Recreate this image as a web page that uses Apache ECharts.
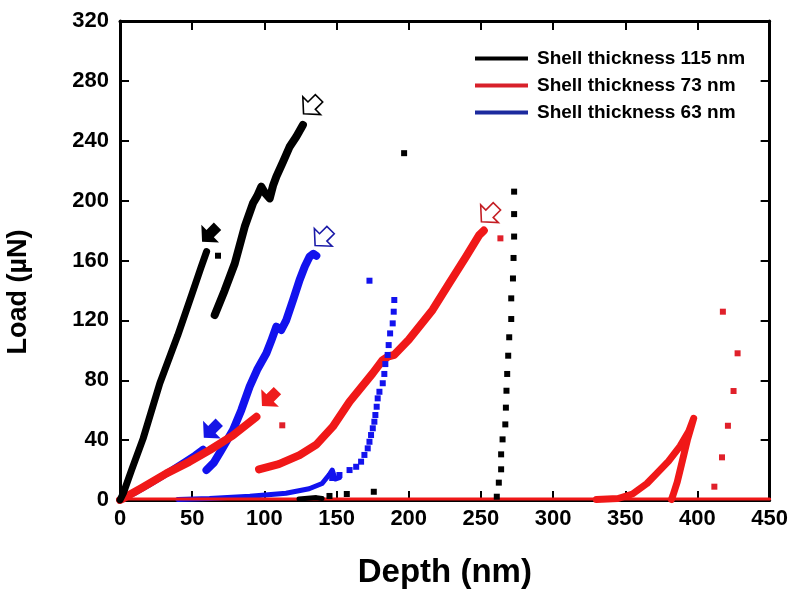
<!DOCTYPE html>
<html>
<head>
<meta charset="utf-8">
<script src="https://cdn.jsdelivr.net/npm/echarts@6/dist/echarts.min.js"></script>
<style>
  html, body { margin: 0; padding: 0; background: #fff; }
  #chart { width: 791px; height: 595px; }
</style>
</head>
<body>
<div id="chart"></div>
<script>
// Load–depth curves, [depth (nm), load (µN)]
const black115Load1 = [[0,0],[2.3,4.5],[8,20],[16,41],[27.6,78],[40,110],[50,138],[56,155],[60,166]];
const black115Load2 = [[65.6,123.6],[72.5,140],[79.5,158],[86.4,182.6],[92.1,198.2],[95,203],[97.9,209.3],[100.5,205],[103.7,201.5],[106,210],[108.3,216],[113,226],[117.5,236],[122.1,242.7],[126.7,250.5]];
const black115Tail  = [[124,0.6],[130,1.2],[136,1.6],[140,1]];
const black115Dots  = [[67.9,163.2],[196.8,231.7],[273,206],[273,191],[273,176],[272.6,161.7],[272.2,148],[271,134.7],[271,120.9],[269.6,108.7],[268.9,96.4],[268.2,84.2],[267.7,73],[267.3,61.7],[266.9,50.5],[265,40.5],[264,30.5],[264,20.5],[262.4,11.6],[261,2.2],[145.1,2.7],[157.1,4],[175.8,5.5]];

const red73Load1 = [[0,0],[2.3,1.1],[15,8],[32.2,17.8],[48,25.5],[62.2,33.4],[78,43],[94.5,55.6]];
const red73Load2 = [[96.3,20.5],[110,24],[124.4,30],[136,37],[147.4,49],[159,65.7],[175,84.6],[182,93.5],[186,96],[190,97],[200,107],[216.5,127],[228,144.7],[239.6,162.5],[248.8,177],[252,180]];
const red73Loop  = [[330,0.3],[345,1],[355,4],[365,11],[372,18],[380,26],[388,36],[394,46],[397.4,54.6],[393,40],[389,24],[386,12],[383,3],[382,0.3]];
const red73Base  = [[0,0.6],[450,0.6]];
const red73Dots  = [[112.4,49.9],[263.5,174.8],[417.6,125.8],[427.8,98],[425,72.8],[421.1,49.6],[417,28.5],[411.7,8.9]];

const blue63Load1 = [[0,0],[10,5],[20,10.5],[32,17.5],[44,25],[52,30],[57.6,34]];
const blue63Load2 = [[59.9,20],[65,25],[70,33],[78.3,46.8],[84,60],[89.8,75.7],[95,87],[101.4,98],[105,107],[108.3,115.8],[111.7,113.6],[115.2,120.2],[120,134],[124.4,147],[128,156],[131.3,162.5],[134,164.5],[136,163.2]];
const blue63Base  = [[40,0.4],[62,1],[90,2.5],[115,4.5],[131,7.5],[140,11],[145,17],[147,20],[149,14],[152,15]];
const blue63Dots  = [[172.8,146.5],[190,133.6],[189.6,125.8],[188.9,118],[187.1,111.3],[186.1,103.5],[185.4,96.9],[183.8,90.8],[183.1,84.2],[182,78],[179.7,72.3],[178.5,67.9],[177.8,62.3],[176.9,56.8],[176.2,52.3],[175.1,47.9],[173.9,43.4],[172.8,38.9],[171.6,34.5],[169.3,30.1],[167,25.6],[163.6,22.2],[159,20],[152,16.7],[147,14.7]];

// Arrow markers: filled ones mark pop-in onsets, open ones the peak loads
const arrowsFilled = [[62.2,177.7,'#000000'],[63.4,46.8,'#1515e6'],[103.7,67.9,'#ee1c1c']];
const arrowsOpen   = [[132.5,263.2,'#000000'],[140.5,175.2,'#1a1aa8'],[255.7,191,'#c41e24']];

const seriesNames = ['Shell thickness 115 nm','Shell thickness 73 nm','Shell thickness 63 nm'];
const xTicks = { min: 0, max: 450, interval: 50 };
const yTicks = { min: 0, max: 320, interval: 40 };

const FONT = 'Arial, "Liberation Sans", Helvetica, sans-serif';
const BLACK = '#000000', RED = '#f01818', BLUE = '#1212ee';
const arrowPath = 'path://M0,0 L12,11 L5,11 L5,21 L-5,21 L-5,11 L-12,11 Z';

function lineSeries(name, data, color, width, z) {
  return { name, type: 'line', data, showSymbol: false, symbol: 'none', z,
    lineStyle: { color, width, cap: 'round', join: 'round' }, itemStyle: { color },
    animation: false, silent: true };
}
function dotSeries(name, data, color, z) {
  return { name, type: 'scatter', data, symbol: 'rect', symbolSize: 6, z,
    itemStyle: { color, opacity: 1 }, animation: false, silent: true };
}
function arrowSeries(list, open) {
  return { name: open ? 'open arrows' : 'filled arrows', type: 'scatter', z: 10,
    data: list.map(a => ({ value: [a[0], a[1]],
      itemStyle: open ? { color: '#ffffff', borderColor: a[2], borderWidth: 1.6, opacity: 1 }
                      : { color: a[2], opacity: 1 } })),
    symbol: arrowPath, symbolSize: [25, 25], symbolRotate: 135, symbolKeepAspect: true,
    animation: false, silent: true };
}

const axisCommon = {
  type: 'value', splitLine: { show: false },
  axisLine: { show: true, onZero: false, lineStyle: { color: '#000', width: 3 } },
  axisTick: { show: true, inside: true, length: 9, lineStyle: { color: '#000', width: 2 } }
};

const chart = echarts.init(document.getElementById('chart'), null, { renderer: 'canvas' });
chart.setOption({
  backgroundColor: '#ffffff',
  animation: false,
  grid: { left: 120, right: 20, top: 21, bottom: 95, containLabel: false },
  xAxis: [
    Object.assign({}, axisCommon, xTicks, { position: 'bottom',
      name: 'Depth (nm)', nameLocation: 'middle', nameGap: 56,
      nameTextStyle: { fontFamily: FONT, fontWeight: 'bold', fontSize: 33, color: '#000' },
      axisLabel: { fontFamily: FONT, fontWeight: 'bold', fontSize: 22, color: '#000', margin: 8 } }),
    Object.assign({}, axisCommon, xTicks, { position: 'top', axisLabel: { show: false } })
  ],
  yAxis: [
    Object.assign({}, axisCommon, yTicks, { position: 'left',
      axisLabel: { fontFamily: FONT, fontWeight: 'bold', fontSize: 22, color: '#000', margin: 11 } }),
    Object.assign({}, axisCommon, yTicks, { position: 'right', axisLabel: { show: false } })
  ],
  graphic: [{
    type: 'text', x: 19, y: 292, rotation: Math.PI / 2, silent: true,
    style: { text: 'Load (µN)', fill: '#000', font: 'bold 27px ' + FONT,
      textAlign: 'center', textVerticalAlign: 'middle' }
  }],
  legend: {
    orient: 'vertical', left: 475, top: 49, padding: 0,
    itemWidth: 53, itemHeight: 14, itemGap: 8,
    textStyle: { fontFamily: FONT, fontWeight: 'bold', fontSize: 19, color: '#000', padding: [0,0,0,4] },
    data: [
      { name: seriesNames[0], icon: 'path://M0,0 L53,0 L53,4 L0,4 Z', itemStyle: { color: '#000000' } },
      { name: seriesNames[1], icon: 'path://M0,0 L53,0 L53,4 L0,4 Z', itemStyle: { color: '#d8202a' } },
      { name: seriesNames[2], icon: 'path://M0,0 L53,0 L53,4 L0,4 Z', itemStyle: { color: '#1c2a9e' } }
    ],
    selectedMode: false
  },
  series: [
    lineSeries(seriesNames[2], blue63Load1, BLUE, 7, 2),
    lineSeries(seriesNames[2], blue63Base, BLUE, 5, 2),
    lineSeries(seriesNames[1], red73Base, RED, 3, 2),
    lineSeries(seriesNames[0], black115Tail, BLACK, 5, 2),
    lineSeries(seriesNames[2], blue63Load2, BLUE, 8, 3),
    lineSeries(seriesNames[1], red73Load1, RED, 8, 4),
    lineSeries(seriesNames[1], red73Load2, RED, 8, 4),
    lineSeries(seriesNames[1], red73Loop, RED, 7, 4),
    lineSeries(seriesNames[0], black115Load1, BLACK, 7, 4),
    lineSeries(seriesNames[0], black115Load2, BLACK, 8, 4),
    dotSeries(seriesNames[0], black115Dots, BLACK, 5),
    dotSeries(seriesNames[1], red73Dots, '#e0202a', 5),
    dotSeries(seriesNames[2], blue63Dots, BLUE, 5),
    arrowSeries(arrowsFilled, false),
    arrowSeries(arrowsOpen, true)
  ]
});
</script>
</body>
</html>
